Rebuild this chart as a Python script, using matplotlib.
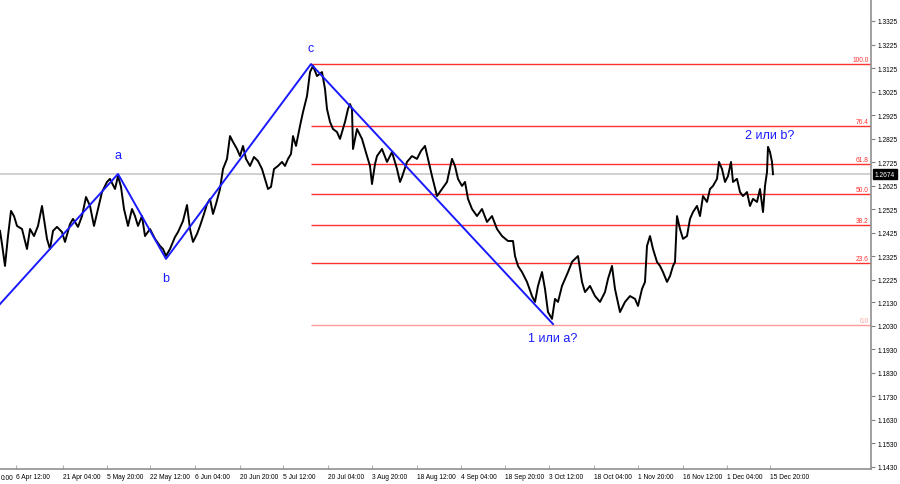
import numpy as np
import matplotlib.pyplot as plt

plt.rcParams['font.family'] = ['Liberation Sans', 'DejaVu Sans']

# price path (bar position, price)
bars = [0, 2, 5, 8, 11, 14, 17, 22, 27, 30, 34, 38, 42, 44, 47, 50, 53, 57, 62, 65,
        70, 73, 78, 82, 86, 90, 94, 98, 102, 107, 110, 115, 118, 121, 124, 128, 132, 135,
        138, 142, 145, 150, 155, 160, 163, 166, 170, 175, 178, 183, 187, 190, 193, 197,
        200, 204, 207, 210, 213, 216, 220, 223, 227, 230, 233, 237, 240, 243, 246, 250,
        254, 258, 262, 265, 268, 271, 274, 278, 282, 285, 288, 291, 293, 296, 300, 303,
        307, 310, 313, 317, 322, 325, 327, 330, 333, 337, 340, 345, 348, 350, 352, 353,
        357, 362, 367, 370, 372, 375, 377, 382, 387, 392, 397, 400, 402, 407, 412, 417,
        421, 425, 428, 432, 437, 442, 447, 452, 455, 458, 462, 465, 468, 472, 477, 482,
        487, 492, 497, 502, 508, 513, 515, 518, 522, 527, 532, 535, 538, 542, 545, 548,
        552, 555, 558, 562, 565, 568, 572, 575, 578, 582, 585, 590, 595, 600, 605, 608,
        612, 615, 620, 625, 630, 635, 638, 642, 645, 647, 650, 653, 657, 660, 663, 667,
        670, 673, 675, 677, 680, 683, 687, 690, 693, 697, 700, 703, 707, 710, 713, 717,
        719, 722, 725, 728, 731, 733, 737, 740, 743, 747, 750, 753, 757, 760, 763, 765,
        767, 768, 770, 772, 773]
closes = [1.2433, 1.2377, 1.2284, 1.2411, 1.2518, 1.2496, 1.2454, 1.2441, 1.2356, 1.2441,
          1.2411, 1.2454, 1.2539, 1.2484, 1.2399, 1.2356, 1.2433, 1.2450, 1.2428, 1.2386,
          1.2462, 1.2484, 1.2450, 1.2496, 1.2577, 1.2539, 1.2454, 1.2526, 1.2598, 1.2641,
          1.2654, 1.2611, 1.2666, 1.2620, 1.2526, 1.2454, 1.2526, 1.2496, 1.2454, 1.2496,
          1.2411, 1.2441, 1.2399, 1.2369, 1.2356, 1.2326, 1.2356, 1.2407, 1.2428, 1.2475,
          1.2543, 1.2441, 1.2386, 1.2420, 1.2454, 1.2505, 1.2547, 1.2569, 1.2505, 1.2547,
          1.2611, 1.2696, 1.2739, 1.2836, 1.2811, 1.2781, 1.2751, 1.2794, 1.2739, 1.2709,
          1.2747, 1.2730, 1.2696, 1.2654, 1.2611, 1.2620, 1.2696, 1.2709, 1.2726, 1.2709,
          1.2739, 1.2760, 1.2836, 1.2794, 1.2879, 1.2938, 1.3006, 1.3108, 1.3134, 1.3091,
          1.3108, 1.3036, 1.2951, 1.2896, 1.2866, 1.2853, 1.2824, 1.2896, 1.2951, 1.2972,
          1.2951, 1.2781, 1.2866, 1.2824, 1.2751, 1.2709, 1.2632, 1.2717, 1.2751, 1.2781,
          1.2726, 1.2768, 1.2696, 1.2641, 1.2662, 1.2726, 1.2751, 1.2739, 1.2773, 1.2794,
          1.2739, 1.2666, 1.2581, 1.2611, 1.2641, 1.2739, 1.2709, 1.2654, 1.2624, 1.2641,
          1.2569, 1.2526, 1.2496, 1.2526, 1.2471, 1.2496, 1.2441, 1.2411, 1.2390, 1.2390,
          1.2326, 1.2284, 1.2258, 1.2216, 1.2156, 1.2131, 1.2199, 1.2258, 1.2186, 1.2088,
          1.2059, 1.2144, 1.2131, 1.2199, 1.2229, 1.2258, 1.2301, 1.2314, 1.2326, 1.2216,
          1.2173, 1.2199, 1.2156, 1.2131, 1.2173, 1.2229, 1.2284, 1.2186, 1.2088, 1.2131,
          1.2156, 1.2144, 1.2114, 1.2186, 1.2216, 1.2369, 1.2411, 1.2356, 1.2301, 1.2284,
          1.2258, 1.2216, 1.2241, 1.2284, 1.2301, 1.2496, 1.2441, 1.2399, 1.2411, 1.2484,
          1.2513, 1.2539, 1.2496, 1.2581, 1.2556, 1.2611, 1.2624, 1.2654, 1.2726, 1.2696,
          1.2641, 1.2666, 1.2726, 1.2641, 1.2654, 1.2598, 1.2581, 1.2598, 1.2539, 1.2569,
          1.2556, 1.2611, 1.2513, 1.2624, 1.2683, 1.2790, 1.2768, 1.2726, 1.2674]
last_price = 1.2674

# wave markup
wave_bars = [0, 118, 166, 311, 553]
wave_prices = [1.2122, 1.2675, 1.2314, 1.3142, 1.2037]
wave_labels = ['a', 'b', 'c', '1 или а?']
wave_label_offsets = [19, -19, 16, -14]
peak_bar, peak_price, peak_label = 770, 1.2790, '2 или b?'

# fibonacci grid
fib_start = 311
fib_names = ['100.0', '76.4', '61.8', '50.0', '38.2', '23.6', '0.0']
fib_prices = [1.3142, 1.2880, 1.2718, 1.2588, 1.2457, 1.2296, 1.2035]

# axes labels
price_ticks = [1.3325, 1.3225, 1.3125, 1.3025, 1.2925, 1.2825, 1.2725, 1.2625, 1.2525,
               1.2425, 1.2325, 1.2225, 1.2130, 1.2030, 1.1930, 1.1830, 1.1730, 1.1630,
               1.1530, 1.1430]
time_ticks = [16, 63, 107, 150, 195, 240, 283, 328, 372, 417, 461, 505, 549, 594, 638,
              683, 727, 770]
time_labels = ['6 Apr 12:00', '21 Apr 04:00', '5 May 20:00', '22 May 12:00', '6 Jun 04:00',
               '20 Jun 20:00', '5 Jul 12:00', '20 Jul 04:00', '3 Aug 20:00', '18 Aug 12:00',
               '4 Sep 04:00', '18 Sep 20:00', '3 Oct 12:00', '18 Oct 04:00', '1 Nov 20:00',
               '16 Nov 12:00', '1 Dec 04:00', '15 Dec 20:00']

fig = plt.figure(figsize=(9, 4.85), dpi=100)
ax = fig.add_axes([0, 1 - 470 / 485, 871 / 900, 470 / 485])
ax.set_xlim(0, 871)
ax.set_ylim(1.1421, 1.34185)

ax.axhline(last_price, color='#c8c8c8', lw=1.2, zorder=1)

for name, p in zip(fib_names, fib_prices):
    col = '#ff9a9a' if name == '0.0' else '#ff3030'
    ax.hlines(p, fib_start, 871, color=col, lw=1, zorder=2)
    ax.annotate(name, (869, p), textcoords='offset pixels', xytext=(0, 1),
                ha='right', va='bottom', fontsize=4.8, color=col)

ax.plot(bars, closes, color='black', lw=1.4, zorder=3)
ax.plot(wave_bars, wave_prices, color='#1a1aff', lw=1.4, zorder=4)

for b, p, lab, off in zip(wave_bars[1:], wave_prices[1:], wave_labels, wave_label_offsets):
    ax.annotate(lab, (b, p), textcoords='offset pixels', xytext=(0, off),
                ha='center', va='center', fontsize=9, color='#1a1aff')
ax.annotate(peak_label, (peak_bar, peak_price), textcoords='offset pixels', xytext=(0, 12),
            ha='center', va='center', fontsize=9, color='#1a1aff')

# right price scale
ax.yaxis.tick_right()
ax.set_yticks(price_ticks)
ax.set_yticklabels(['%.4f' % v for v in price_ticks])
ax.tick_params(axis='y', length=3, width=0.8, color='#808080', labelsize=4.8, pad=2)

# time scale
ax.set_xticks(time_ticks)
ax.set_xticklabels(time_labels)
for t in ax.get_xticklabels():
    t.set_ha('left')
ax.tick_params(axis='x', direction='in', length=3, width=0.8, color='#b0b0b0',
               labelsize=4.8, pad=3)
fig.text(0.001, 1 - 479 / 485, '0:00', fontsize=4.8, ha='left', va='center')

for s in ['top', 'left']:
    ax.spines[s].set_visible(False)
for s in ['right', 'bottom']:
    ax.spines[s].set_color('#909090')
    ax.spines[s].set_linewidth(1.2)

ax.annotate('%.4f' % last_price, (1, last_price), xycoords=('axes fraction', 'data'),
            textcoords='offset pixels', xytext=(4, 0), ha='left', va='center',
            fontsize=4.8, color='white',
            bbox=dict(boxstyle='square,pad=0.25', fc='black', ec='black'))

fig.savefig('out.png', dpi=100)
